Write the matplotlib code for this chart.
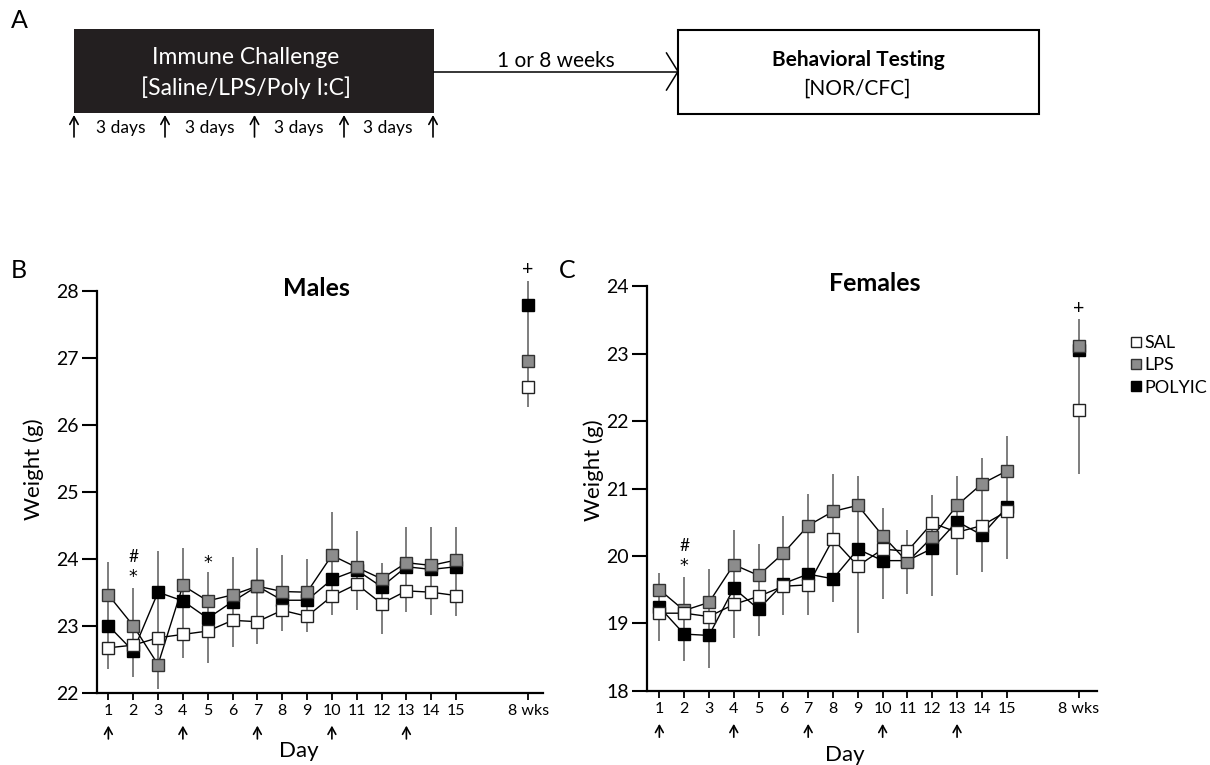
import matplotlib
matplotlib.use('Agg')
import matplotlib.pyplot as plt
from matplotlib.patches import Rectangle

plt.rcParams['font.family'] = ['Lato', 'DejaVu Sans']

# day axis
days = list(range(1, 16))
wk8 = 17.9
tick_labels = [str(d) for d in days] + ['8 wks']
injection_days = [1, 4, 7, 10, 13]

# males, body weight (g)
m_sal = [22.67, 22.71, 22.82, 22.87, 22.92, 23.08, 23.06, 23.23, 23.14, 23.44, 23.62, 23.33, 23.52, 23.50, 23.45]
m_lps = [23.46, 23.00, 22.42, 23.60, 23.37, 23.46, 23.59, 23.51, 23.50, 24.05, 23.87, 23.70, 23.94, 23.90, 23.98]
m_poly = [23.00, 22.62, 23.50, 23.37, 23.11, 23.36, 23.59, 23.38, 23.38, 23.69, 23.83, 23.58, 23.88, 23.84, 23.88]
m_8wk = [26.56, 26.95, 27.79]  # SAL, LPS, POLYIC
m_err_hi = [23.95, 23.57, 24.11, 24.16, 23.80, 24.02, 24.16, 24.06, 23.99, 24.70, 24.41, 23.94, 24.47, 24.47, 24.47]
m_err_lo = [22.35, 22.24, 22.05, 22.52, 22.44, 22.68, 22.73, 22.92, 22.90, 23.16, 23.24, 22.87, 23.21, 23.16, 23.14]
m_err_8wk = [26.26, 28.14]

# females, body weight (g)
f_sal = [19.15, 19.15, 19.10, 19.28, 19.40, 19.55, 19.57, 20.25, 19.85, 20.10, 20.07, 20.49, 20.35, 20.45, 20.66]
f_lps = [19.50, 19.19, 19.31, 19.87, 19.71, 20.04, 20.45, 20.66, 20.75, 20.30, 19.91, 20.28, 20.75, 21.07, 21.26]
f_poly = [19.24, 18.84, 18.82, 19.52, 19.21, 19.59, 19.73, 19.66, 20.10, 19.93, 19.93, 20.11, 20.51, 20.31, 20.72]
f_8wk = [22.17, 23.12, 23.05]
f_err_hi = [19.74, 19.69, 19.81, 20.39, 20.17, 20.59, 20.92, 21.22, 21.19, 20.71, 20.39, 20.91, 21.19, 21.45, 21.78]
f_err_lo = [18.73, 18.44, 18.34, 18.78, 18.81, 19.12, 19.12, 19.31, 18.85, 19.36, 19.43, 19.40, 19.71, 19.76, 19.95]
f_err_8wk = [21.21, 23.52]

groups = ['SAL', 'LPS', 'POLYIC']
faces = {'SAL': 'white', 'LPS': '#8c8c8c', 'POLYIC': 'black'}
edges = {'SAL': '#222222', 'LPS': '#333333', 'POLYIC': 'black'}
# draw order: POLYIC underneath, SAL on top
layer = {'POLYIC': 3, 'LPS': 4, 'SAL': 5}

fig = plt.figure(figsize=(12.1, 7.65), dpi=100)

# ---- panel A: timeline schematic, drawn in pixel units ----
sch = fig.add_axes([0, 0, 1, 1])
sch.set_xlim(0, 1210)
sch.set_ylim(765, 0)
sch.axis('off')
sch.patch.set_visible(False)

sch.add_patch(Rectangle((74, 29), 360, 84, facecolor='#231f20', edgecolor='none'))
sch.text(246, 57, 'Immune Challenge', color='white', fontsize=16.5, ha='center', va='center')
sch.text(246, 88, '[Saline/LPS/Poly I:C]', color='white', fontsize=16.5, ha='center', va='center')

sch.plot([434, 678], [71.5, 71.5], color='black', lw=1.1)
sch.plot([666.5, 678, 666.5], [53, 71.5, 90], color='black', lw=1.1)
sch.text(556, 61, '1 or 8 weeks', fontsize=15, ha='center', va='center')

sch.add_patch(Rectangle((678, 30), 361, 84, facecolor='white', edgecolor='black', lw=1.5))
sch.text(858, 60, 'Behavioral Testing', fontsize=15, fontweight='bold', ha='center', va='center')
sch.text(857, 89, '[NOR/CFC]', fontsize=15, ha='center', va='center')

for x in [74, 165, 254.5, 344, 433]:
    sch.annotate('', xy=(x, 115), xytext=(x, 137),
                 arrowprops=dict(arrowstyle='->,head_length=0.55,head_width=0.3',
                                 lw=1.2, color='black', shrinkA=0, shrinkB=0))
for x in [120.5, 210, 299, 388]:
    sch.text(x, 128, '3 days', fontsize=12.5, ha='center', va='center')

fig.text(19 / 1210, 1 - 20 / 765, 'A', fontsize=18, ha='center', va='center')
fig.text(19 / 1210, 1 - 270 / 765, 'B', fontsize=18, ha='center', va='center')
fig.text(567 / 1210, 1 - 270 / 765, 'C', fontsize=18, ha='center', va='center')


def draw_panel(ax, series, pts8, err_hi, err_lo, err8, ylim, title, title_x,
               ylabel_pos, day_pos, xlim, marks, plus_y):
    ax.vlines(days, err_lo, err_hi, color='#5a5a5a', lw=1.1, zorder=1, clip_on=False)
    ax.vlines([wk8], [err8[0]], [err8[1]], color='#5a5a5a', lw=1.1, zorder=1, clip_on=False)
    for g in ['POLYIC', 'LPS', 'SAL']:
        ax.plot(days, series[g], color='black', lw=1.0, marker='s', ms=9,
                mfc=faces[g], mec=edges[g], mew=1.0, zorder=layer[g], clip_on=False)
        ax.plot([wk8], [pts8[groups.index(g)]], ls='none', marker='s', ms=9,
                mfc=faces[g], mec=edges[g], mew=1.0, zorder=layer[g], clip_on=False)

    ax.set_xlim(*xlim)
    ax.set_ylim(*ylim)
    ax.set_yticks(range(ylim[0], ylim[1] + 1))
    ax.set_xticks(days + [wk8])
    ax.set_xticklabels(tick_labels)
    ax.tick_params(axis='y', length=11, width=1.5, labelsize=14, pad=2)
    ax.tick_params(axis='x', length=5, width=1.3, labelsize=11.5, pad=3)
    for s in ['top', 'right']:
        ax.spines[s].set_visible(False)
    for s in ['left', 'bottom']:
        ax.spines[s].set_linewidth(1.6)

    ax.text(title_x, 1.006, title, transform=ax.transAxes, fontsize=18,
            fontweight='bold', ha='center', va='center')
    ax.text(ylabel_pos[0], ylabel_pos[1], 'Weight (g)', transform=ax.transAxes,
            rotation=90, fontsize=16, ha='center', va='center')
    xt = ax.get_xaxis_transform()
    ax.text(day_pos[0], day_pos[1], 'Day', transform=xt, fontsize=16,
            ha='center', va='center')
    for d in injection_days:
        ax.annotate('', xy=(d, -0.082), xytext=(d, -0.115), xycoords=xt, textcoords=xt,
                    arrowprops=dict(arrowstyle='->,head_length=0.5,head_width=0.28',
                                    lw=1.2, color='black', shrinkA=0, shrinkB=0))
    for x, y, s in marks:
        ax.text(x, y, s, fontsize=12.5, ha='center', va='center',
                family=['DejaVu Sans'] if s == '*' else None)
    ax.text(wk8, plus_y, '+', fontsize=14, ha='center', va='center')


ax_m = fig.add_axes([96.7 / 1210, 1 - 692.7 / 765, 446.3 / 1210, 402 / 765])
draw_panel(ax_m, {'SAL': m_sal, 'LPS': m_lps, 'POLYIC': m_poly}, m_8wk,
           m_err_hi, m_err_lo, m_err_8wk, (22, 28), 'Males', 0.493,
           (-0.1405, 0.556), (8.68, -0.144), (0.53, 18.5),
           [(2, 24.02, '#'), (2, 23.72, '*'), (5, 23.94, '*')], 28.32)

ax_f = fig.add_axes([646.7 / 1210, 1 - 690.7 / 765, 449.8 / 1210, 404.4 / 765])
draw_panel(ax_f, {'SAL': f_sal, 'LPS': f_lps, 'POLYIC': f_poly}, f_8wk,
           f_err_hi, f_err_lo, f_err_8wk, (18, 24), 'Females', 0.506,
           (-0.117, 0.546), (8.48, -0.159), (0.49, 18.62),
           [(2, 20.15, '#'), (2, 19.85, '*')], 23.67)

handles = [plt.Line2D([], [], ls='none', marker='s', ms=7.5, mfc=faces[g],
                      mec=edges[g], mew=1.0) for g in groups]
fig.legend(handles, groups, loc='upper left', bbox_to_anchor=(1131 / 1210, 1 - 335 / 765),
           frameon=False, fontsize=13, handlelength=0.6, handletextpad=0.15,
           labelspacing=0.35, borderpad=0, borderaxespad=0)

fig.savefig('out.png', dpi=100)
